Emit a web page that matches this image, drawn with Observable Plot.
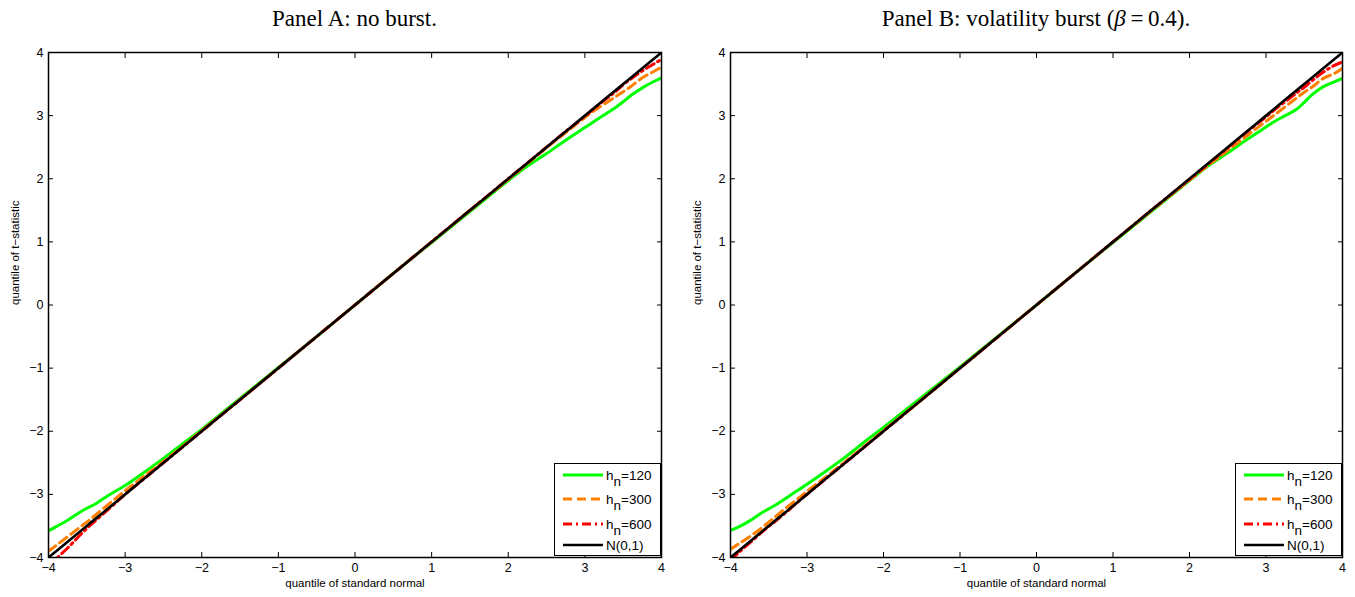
<!DOCTYPE html>
<html><head><meta charset="utf-8">
<script src="https://cdn.jsdelivr.net/npm/d3@7"></script>
<script src="https://cdn.jsdelivr.net/npm/@observablehq/plot@0.6"></script>
<style>
body{margin:0;background:#fff;}
#wrap{position:relative;width:1355px;height:597px;overflow:hidden;}
.panel{position:absolute;top:0;}
.title{font-family:"Liberation Serif","DejaVu Serif",serif;font-size:23px;height:40px;line-height:38px;text-align:center;color:#000;box-sizing:border-box;}
.legend{position:absolute;background:#fff;border:1.5px solid #000;box-sizing:border-box;font-family:"Liberation Sans",Arial,sans-serif;font-size:13px;}
.legend svg{display:block;}
</style></head>
<body><div id="wrap"></div>
<script>
// quantiles of standard normal (x)
const xq = [-4, -3.9, -3.75, -3.6, -3.5, -3.4, -3.25, -3.1, -3, -2.75, -2.5, -2.25, -2, -1.5, -1, -0.5, 0, 0.5, 1, 1.5, 2, 2.25, 2.5, 2.75, 3, 3.1, 3.25, 3.4, 3.5, 3.6, 3.75, 3.9, 4];
// Panel A: no burst
const aH120 = [-3.58, -3.51, -3.41, -3.29, -3.22, -3.16, -3.04, -2.93, -2.86, -2.65, -2.43, -2.20, -1.97, -1.48, -0.99, -0.50, 0, 0.50, 0.99, 1.48, 1.97, 2.20, 2.40, 2.61, 2.81, 2.89, 3.01, 3.13, 3.22, 3.32, 3.44, 3.54, 3.60];
const aH300 = [-3.90, -3.81, -3.67, -3.53, -3.44, -3.34, -3.19, -3.04, -2.94, -2.71, -2.48, -2.24, -1.99, -1.50, -1.00, -0.50, 0, 0.50, 1.00, 1.50, 1.99, 2.24, 2.49, 2.73, 2.97, 3.06, 3.18, 3.30, 3.38, 3.46, 3.60, 3.70, 3.77];
const aH600 = [-4.15, -4.02, -3.85, -3.66, -3.54, -3.43, -3.27, -3.11, -3.00, -2.75, -2.50, -2.25, -2.00, -1.50, -1.00, -0.50, 0, 0.50, 1.00, 1.50, 2.00, 2.25, 2.50, 2.75, 2.99, 3.09, 3.24, 3.38, 3.49, 3.58, 3.71, 3.82, 3.89];
// Panel B: volatility burst
const bH120 = [-3.57, -3.52, -3.42, -3.30, -3.23, -3.16, -3.04, -2.92, -2.84, -2.63, -2.41, -2.17, -1.94, -1.46, -0.98, -0.49, 0, 0.50, 0.99, 1.48, 1.97, 2.21, 2.41, 2.62, 2.82, 2.90, 3.00, 3.10, 3.21, 3.33, 3.46, 3.54, 3.59];
const bH300 = [-3.87, -3.79, -3.67, -3.54, -3.44, -3.34, -3.19, -3.05, -2.95, -2.72, -2.48, -2.24, -1.99, -1.50, -1.00, -0.50, 0, 0.50, 1.00, 1.49, 1.98, 2.22, 2.45, 2.68, 2.91, 3.00, 3.14, 3.28, 3.37, 3.45, 3.59, 3.67, 3.75];
const bH600 = [-4.04, -3.93, -3.77, -3.61, -3.51, -3.41, -3.26, -3.10, -3.00, -2.75, -2.50, -2.25, -2.00, -1.50, -1.00, -0.50, 0, 0.50, 1.00, 1.50, 1.99, 2.24, 2.49, 2.74, 2.98, 3.08, 3.22, 3.36, 3.45, 3.55, 3.69, 3.80, 3.85];
const normal = xq.slice();

const ticks = [-4, -3, -2, -1, 0, 1, 2, 3, 4];
const seriesNames = ["h_n=120", "h_n=300", "h_n=600", "N(0,1)"];
const titles = ["Panel A: no burst.", "Panel B: volatility burst (<i>β</i>\u2009=\u20090.4)."];
const xLabel = "quantile of standard normal";
const yLabel = "quantile of t\u2212statistic";

const styles = [
  {stroke: "#00ff00", strokeDasharray: null, w: 3},
  {stroke: "#ff8000", strokeDasharray: "9,5", w: 3},
  {stroke: "#ff0000", strokeDasharray: "9,4,2,4", w: 3},
  {stroke: "#000000", strokeDasharray: null, w: 2.6}
];

function toRows(ys) { return xq.map((x, i) => ({x, y: ys[i]})); }

function makePanel(seriesList, {left, width, mL, mR, title}) {
  const div = document.createElement("div");
  div.className = "panel";
  div.style.left = left + "px";
  div.style.width = width + "px";
  const t = document.createElement("div");
  t.className = "title";
  t.style.paddingLeft = mL + "px";
  t.style.paddingRight = mR + "px";
  t.innerHTML = title;
  div.appendChild(t);
  const lineMarks = seriesList.map((ys, i) => Plot.line(toRows(ys), {
    x: "x", y: "y", stroke: styles[i].stroke, strokeWidth: styles[i].w,
    strokeDasharray: styles[i].strokeDasharray, clip: true, curve: "catmull-rom"
  }));
  const chart = Plot.plot({
    width, height: 557,
    marginTop: 12, marginBottom: 40, marginLeft: mL, marginRight: mR,
    x: {domain: [-4, 4]},
    y: {domain: [-4, 4]},
    style: {fontFamily: "'Liberation Sans', Arial, sans-serif", fontSize: "12px", color: "#000", background: "#fff"},
    marks: [
      ...lineMarks,
      Plot.frame({stroke: "#000", strokeWidth: 1.5}),
      Plot.axisX({anchor: "bottom", ticks, tickSize: -5, tickPadding: 11, label: null, fontSize: 12.5}),
      Plot.axisX({anchor: "top", ticks, tickSize: -5, tickFormat: () => "", label: null}),
      Plot.axisY({anchor: "left", ticks, tickSize: -5, tickPadding: 10, label: null, fontSize: 12.5}),
      Plot.axisY({anchor: "right", ticks, tickSize: -5, tickFormat: () => "", label: null}),
      Plot.text([xLabel], {frameAnchor: "bottom", dy: 29, text: d => d, fontSize: 11.5}),
      Plot.text([yLabel], {frameAnchor: "left", dx: -33, rotate: -90, text: d => d, fontSize: 11.5})
    ]
  });
  chart.style.display = "block";
  div.appendChild(chart);

  // legend
  const lg = document.createElement("div");
  lg.className = "legend";
  const lgW = 107, lgH = 93;
  lg.style.left = (width - mR - lgW) + "px";
  lg.style.top = (40 + 557 - 40 - 1 - lgH) + "px";
  lg.style.width = lgW + "px";
  lg.style.height = lgH + "px";
  const ns = "http://www.w3.org/2000/svg";
  const svg = document.createElementNS(ns, "svg");
  svg.setAttribute("width", lgW - 3);
  svg.setAttribute("height", lgH - 3);
  const rowsY = [11, 35, 60, 81];
  seriesNames.forEach((name, i) => {
    const ln = document.createElementNS(ns, "line");
    ln.setAttribute("x1", 8); ln.setAttribute("x2", 48);
    ln.setAttribute("y1", rowsY[i]); ln.setAttribute("y2", rowsY[i]);
    ln.setAttribute("stroke", styles[i].stroke);
    ln.setAttribute("stroke-width", styles[i].w);
    if (styles[i].strokeDasharray) ln.setAttribute("stroke-dasharray", styles[i].strokeDasharray);
    svg.appendChild(ln);
    const tx = document.createElementNS(ns, "text");
    tx.setAttribute("x", 51);
    tx.setAttribute("y", rowsY[i] + 4.5);
    tx.setAttribute("font-size", 13.5);
    tx.setAttribute("fill", "#000");
    if (name.startsWith("h_n")) {
      const a = document.createElementNS(ns, "tspan"); a.textContent = "h"; tx.appendChild(a);
      const b = document.createElementNS(ns, "tspan"); b.textContent = "n"; b.setAttribute("dy", 6); tx.appendChild(b);
      const c = document.createElementNS(ns, "tspan"); c.textContent = name.slice(3); c.setAttribute("dy", -6); tx.appendChild(c);
    } else {
      tx.textContent = name;
    }
    svg.appendChild(tx);
  });
  lg.appendChild(svg);
  div.appendChild(lg);
  document.getElementById("wrap").appendChild(div);
}

makePanel([aH120, aH300, aH600, normal], {left: 0, width: 678, mL: 48, mR: 17, title: titles[0]});
makePanel([bH120, bH300, bH600, normal], {left: 678, width: 677, mL: 52, mR: 13, title: titles[1]});
</script>
</body></html>
